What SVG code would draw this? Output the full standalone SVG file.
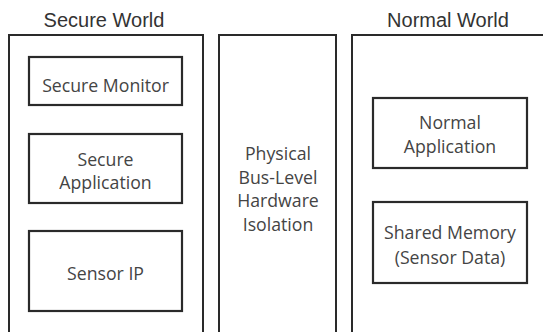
<svg xmlns="http://www.w3.org/2000/svg" width="543" height="332" viewBox="0 0 543 332">
<style>
.outer{fill:none;stroke:#2a2a2a;stroke-width:2}
.box{fill:#fff;stroke:#2a2a2a;stroke-width:2.2}
.title{font-family:"Liberation Sans",Arial,sans-serif;font-size:20px;fill:#333;text-anchor:middle;dominant-baseline:central}
.lbl{font-family:"Open Sans","Noto Sans",sans-serif;font-size:17.7px;fill:#444;text-anchor:middle;dominant-baseline:central}
</style>
<rect width="543" height="332" fill="#fff"/>
<g id="secure-world">
<text class="title" x="104" y="20">Secure World</text>
<rect class="outer" x="9" y="35" width="194" height="310"/>
</g>
<g id="secure-monitor">
<rect class="box" x="29" y="57" width="153" height="48"/>
<text class="lbl" x="105.5" y="85">Secure Monitor</text>
</g>
<g id="secure-application">
<rect class="box" x="29" y="134" width="153" height="69"/>
<text class="lbl" x="105.5" y="159">Secure</text>
<text class="lbl" x="105.5" y="182">Application</text>
</g>
<g id="sensor-ip">
<rect class="box" x="29" y="231" width="153" height="80"/>
<text class="lbl" x="105.5" y="273">Sensor IP</text>
</g>
<g id="isolation">
<rect class="outer" x="219" y="35" width="117" height="310"/>
<text class="lbl" x="278" y="153">Physical</text>
<text class="lbl" x="278" y="177">Bus-Level</text>
<text class="lbl" x="278" y="200">Hardware</text>
<text class="lbl" x="278" y="224">Isolation</text>
</g>
<g id="normal-world">
<text class="title" x="448" y="20">Normal World</text>
<rect class="outer" x="352" y="35" width="210" height="310"/>
</g>
<g id="normal-application">
<rect class="box" x="373" y="98" width="154" height="70"/>
<text class="lbl" x="450" y="122">Normal</text>
<text class="lbl" x="450" y="146">Application</text>
</g>
<g id="shared-memory">
<rect class="box" x="373" y="202" width="154" height="81"/>
<text class="lbl" x="450" y="232">Shared Memory</text>
<text class="lbl" x="450" y="257">(Sensor Data)</text>
</g>
<g id="connectors"></g>
</svg>
